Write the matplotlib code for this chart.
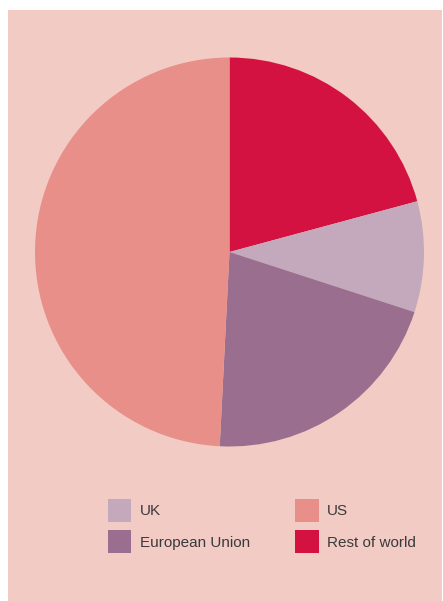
import matplotlib.pyplot as plt
from matplotlib.patches import Patch

# Share of total
regions = ['Rest of world', 'UK', 'European Union', 'US']
shares = [20.8, 9.2, 20.8, 49.2]
colors = ['#D41241', '#C4A9BC', '#9A6E8E', '#E78F88']

legend_order = ['UK', 'European Union', 'US', 'Rest of world']

plt.rcParams['font.family'] = ['Liberation Sans', 'DejaVu Sans']

W, H = 443, 601
fig = plt.figure(figsize=(W / 100, H / 100), dpi=100)
fig.patch.set_facecolor('white')

# pink panel behind everything
bg = fig.add_axes([8 / W, 0, (442 - 8) / W, 1 - 10 / H], zorder=-1)
bg.set_facecolor('#F2CBC4')
bg.set_xticks([])
bg.set_yticks([])
for s in bg.spines.values():
    s.set_visible(False)

# pie axes: center (229.5, 252) px, radius 194.5 px
r = 194.5
cx, cy = 229.5, 252
ax = fig.add_axes([(cx - r) / W, 1 - (cy + r) / H, 2 * r / W, 2 * r / H])
ax.set_facecolor('none')
ax.pie(shares, colors=colors, startangle=90, counterclock=False,
       radius=1, wedgeprops=dict(linewidth=0))
ax.set_xlim(-1, 1)
ax.set_ylim(-1, 1)
ax.set_aspect('equal')
ax.axis('off')

color_map = dict(zip(regions, colors))
handles = [Patch(facecolor=color_map[n], edgecolor='none', label=n) for n in legend_order]
fig.legend(handles=handles, ncol=2, loc='upper left',
           bbox_to_anchor=(108 / W, 1 - 499 / H), frameon=False,
           fontsize=11, handlelength=1.52, handleheight=1.94,
           handletextpad=0.58, columnspacing=2.95, labelspacing=0.55,
           borderpad=0, borderaxespad=0, labelcolor='#3A3A3A')

fig.savefig('out.png', dpi=100)
